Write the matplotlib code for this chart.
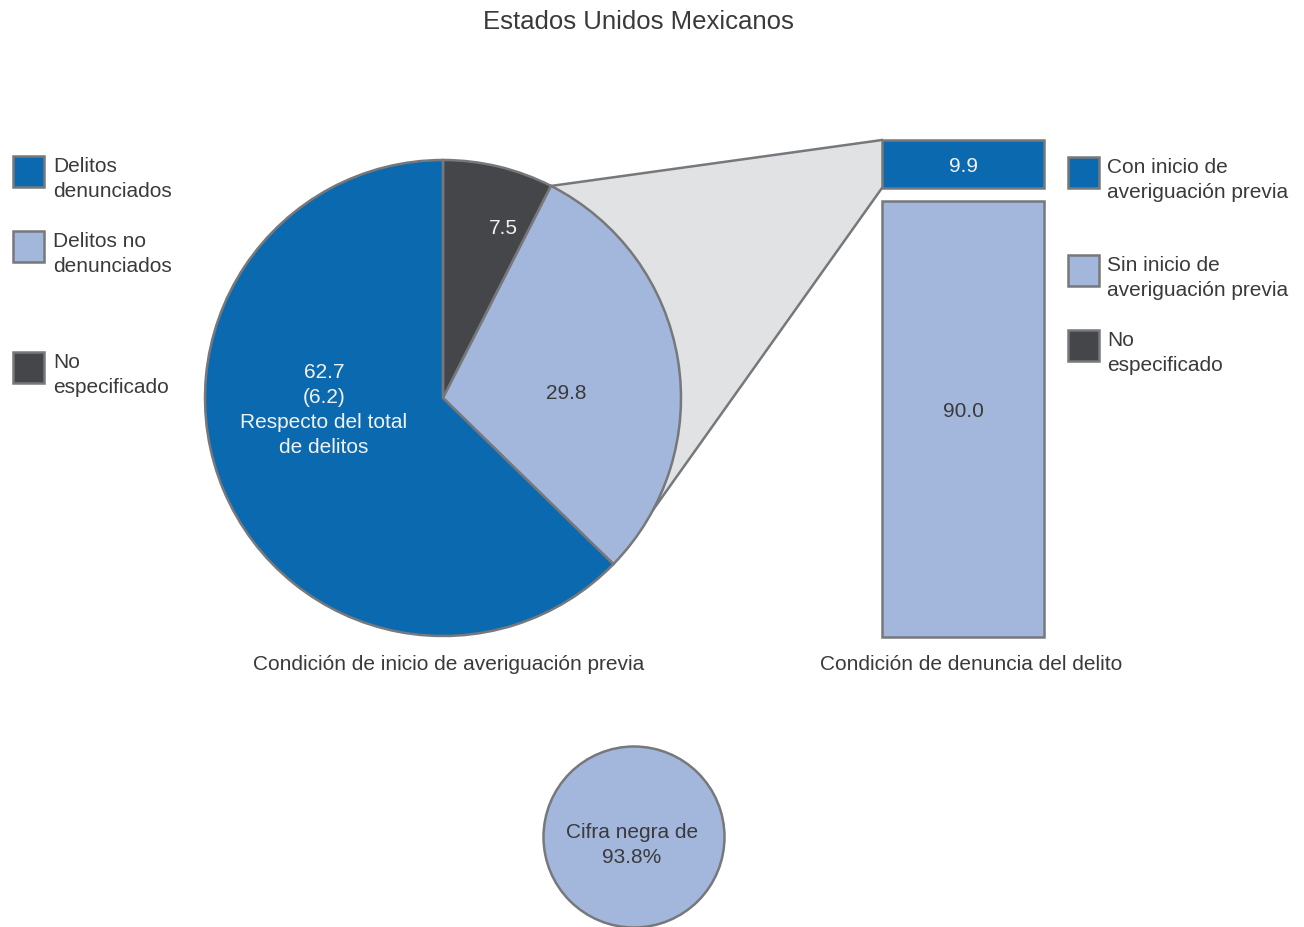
import numpy as np
import matplotlib
matplotlib.use("Agg")
import matplotlib.pyplot as plt
from matplotlib.patches import Polygon, Circle, Rectangle

plt.rcParams['font.family'] = ['Liberation Sans', 'DejaVu Sans']

# Condición de inicio de averiguación previa (pie, %)
pie_labels = ['No especificado', 'Delitos no denunciados', 'Delitos denunciados']
pie_values = [7.5, 29.8, 62.7]
denunciados_total = 6.2

# Condición de denuncia del delito (bar, %)
bar_labels = ['Sin inicio de averiguación previa', 'Con inicio de averiguación previa']
bar_values = [90.0, 9.9]

cifra_negra = 93.8

BLUE = '#0B6AAF'
LIGHT = '#A3B7DD'
DARK = '#454649'
EDGE = '#77787B'
FILL = '#E1E2E4'
TEXT = '#3A3A3A'
WHITE = '#F2F2F2'
LS = 1.4

W, H = 1304, 927
fig = plt.figure(figsize=(W / 100, H / 100), dpi=100)
ax = fig.add_axes([0, 0, 1, 1])


def Y(y):
    # layout positions are given from the top edge
    return H - y


cx, cy, r = 443, Y(398), 238
wedges, _ = ax.pie(pie_values, colors=[DARK, LIGHT, BLUE], startangle=90,
                   counterclock=False, center=(cx, cy), radius=r,
                   wedgeprops=dict(edgecolor=EDGE, linewidth=1.8))
for w in wedges:
    w.set_zorder(3)
ax.set_xlim(0, W)
ax.set_ylim(0, H)
ax.set_aspect('auto')
ax.axis('off')

# bar on its own axes
bx0, by_top, by_bot, bw = 882, 140, 637, 162
gap = 2.7
bax = fig.add_axes([bx0 / W, Y(by_bot) / H, bw / W, (by_bot - by_top) / H])
bax.set_xlim(-0.5, 0.5)
bax.set_ylim(0, sum(bar_values) + gap)
bax.axis('off')
bax.bar(0, bar_values[0], width=1, bottom=0, color=LIGHT, edgecolor=EDGE,
        linewidth=1.8, clip_on=False)
top_bottom = bar_values[0] + gap
bax.bar(0, bar_values[1], width=1, bottom=top_bottom, color=BLUE, edgecolor=EDGE,
        linewidth=1.8, clip_on=False)
bax.text(0, bar_values[0] * 0.517, f'{bar_values[0]:.1f}', ha='center', va='center',
         fontsize=15, color=TEXT)
bax.text(0, top_bottom + bar_values[1] * 0.45, f'{bar_values[1]:.1f}', ha='center',
         va='center', fontsize=15, color=WHITE)

fig.canvas.draw()


def to_main(x, y):
    disp = bax.transData.transform((x, y))
    return ax.transData.inverted().transform(disp)


# connector from the "no denunciados" wedge to the bar
a1 = np.deg2rad(90 - pie_values[0] * 3.6)
a2 = np.deg2rad(-28)
p1 = (cx + r * np.cos(a1), cy + r * np.sin(a1))
p4 = (cx + r * np.cos(a2), cy + r * np.sin(a2))
p2 = to_main(-0.5, sum(bar_values) + gap)
p3 = to_main(-0.5, top_bottom)
ax.add_patch(Polygon([p1, p2, p3, p4, (cx, cy)], closed=True, facecolor=FILL,
                     edgecolor='none', zorder=1))
ax.plot([p1[0], p2[0]], [p1[1], p2[1]], color=EDGE, lw=1.8, zorder=2)
ax.plot([p3[0], p4[0]], [p3[1], p4[1]], color=EDGE, lw=1.8, zorder=2)

# pie labels
ax.text(cx + 60, cy + 170, f'{pie_values[0]:.1f}', ha='center', va='center',
        fontsize=15, color=WHITE, zorder=5)
ax.text(cx + 123, cy + 5, f'{pie_values[1]:.1f}', ha='center', va='center',
        fontsize=15, color=TEXT, zorder=5)
ax.text(cx - 119, cy - 12,
        f'{pie_values[2]:.1f}\n({denunciados_total:.1f})\nRespecto del total\nde delitos',
        ha='center', va='center', fontsize=15, color=WHITE, linespacing=LS, zorder=5)

# title and axis captions
ax.text(638, Y(22), 'Estados Unidos Mexicanos', ha='center', va='center',
        fontsize=18.5, color=TEXT)
ax.text(449, Y(665), 'Condición de inicio de averiguación previa', ha='center',
        va='center', fontsize=15, color=TEXT)
ax.text(971, Y(665), 'Condición de denuncia del delito', ha='center',
        va='center', fontsize=15, color=TEXT)

# legends
left_legend = [(BLUE, 'Delitos\ndenunciados', 156),
               (LIGHT, 'Delitos no\ndenunciados', 231),
               (DARK, 'No\nespecificado', 352)]
right_legend = [(BLUE, 'Con inicio de\naveriguación previa', 157),
                (LIGHT, 'Sin inicio de\naveriguación previa', 255),
                (DARK, 'No\nespecificado', 330)]
for (x_sq, x_txt, items) in [(13, 53, left_legend), (1068, 1107, right_legend)]:
    for color, label, y_top in items:
        ax.add_patch(Rectangle((x_sq, Y(y_top + 31)), 31, 31, facecolor=color,
                               edgecolor=EDGE, linewidth=1.8))
        ax.text(x_txt, Y(y_top + 1), label, ha='left', va='top', fontsize=15,
                color=TEXT, linespacing=LS)

# cifra negra
ax.add_patch(Circle((634, Y(837)), 90.5, facecolor=LIGHT, edgecolor=EDGE,
                    linewidth=1.8, clip_on=False))
ax.text(632, Y(845), f'Cifra negra de\n{cifra_negra:.1f}%', ha='center',
        va='center', fontsize=15, color=TEXT, linespacing=LS)

fig.savefig('out.png', dpi=100, facecolor='white')
